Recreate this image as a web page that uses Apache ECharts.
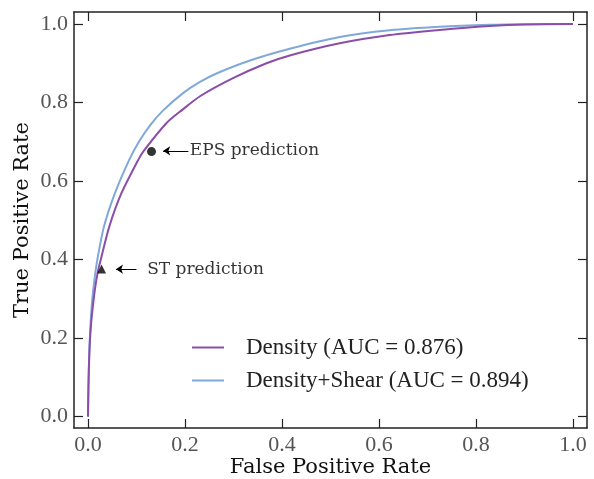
<!DOCTYPE html>
<html>
<head>
<meta charset="utf-8">
<script src="https://cdn.jsdelivr.net/npm/echarts@6/dist/echarts.min.js"></script>
<style>html,body{margin:0;padding:0;background:#fff}#c{width:594px;height:479px}</style>
</head>
<body>
<div id="c"></div>
<script>
// ---- data ----
const fprDensity = [0, 0.001, 0.002, 0.0035, 0.006, 0.010, 0.015, 0.0205, 0.0262, 0.0439, 0.069, 0.1036, 0.115, 0.162, 0.195, 0.231, 0.299, 0.368, 0.416, 0.519, 0.622, 0.725, 0.828, 0.9, 1.0];
const tprDensity = [0, 0.08, 0.13, 0.18, 0.23, 0.28, 0.33, 0.37, 0.399, 0.484, 0.569, 0.654, 0.677, 0.748, 0.782, 0.816, 0.862, 0.900, 0.920, 0.951, 0.972, 0.985, 0.995, 0.999, 1.0];
const fprShear = [0, 0.001, 0.002, 0.0035, 0.006, 0.009, 0.0135, 0.0192, 0.033, 0.0556, 0.085, 0.105, 0.128, 0.155, 0.196, 0.230, 0.265, 0.334, 0.416, 0.519, 0.622, 0.725, 0.828, 0.9, 1.0];
const tprShear = [0, 0.07, 0.13, 0.19, 0.25, 0.30, 0.35, 0.399, 0.484, 0.569, 0.654, 0.700, 0.742, 0.780, 0.824, 0.852, 0.874, 0.907, 0.937, 0.967, 0.984, 0.993, 0.998, 0.9995, 1.0];
const seriesNames = ['Density (AUC = 0.876)', 'Density+Shear (AUC = 0.894)'];
const epsPoint = [0.131, 0.675];
const stPoint = [0.028, 0.376];
const annotationLabels = ['EPS prediction', 'ST prediction'];
const epsTextPos = [0.21, 0.677];
const stTextPos = [0.122, 0.3755];
const epsArrowTip = [0.155, 0.677];
const stArrowTip = [0.0577, 0.3755];
const tickValues = [0, 0.2, 0.4, 0.6, 0.8, 1.0];

const zip = (a, b) => a.map((v, i) => [v, b[i]]);
const purple = '#8a4ea8';
const blue = '#80a8d8';
const serif = 'Liberation Serif';
const axisMin = -0.0288, axisMax = 1.0288;
const yMin = -0.029, yMax = 1.0306;

function mkAxis(pos, isX, main) {
  const a = {
    type: 'value', position: pos,
    min: isX ? axisMin : yMin, max: isX ? axisMax : yMax,
    splitLine: { show: false },
    axisLine: { show: true, onZero: false, lineStyle: { color: '#222', width: 1.5 } },
    axisTick: { show: true, inside: true, length: 9, customValues: tickValues, lineStyle: { color: '#222', width: 1.2 } },
    axisLabel: { show: main, customValues: tickValues, formatter: v => v.toFixed(1),
      fontFamily: serif, fontSize: 22, color: '#555', margin: 6 }
  };
  if (main) {
    a.name = isX ? 'False Positive Rate' : 'True Positive Rate';
    a.nameLocation = 'middle';
    a.nameGap = isX ? 29 : 41;
    a.nameMoveOverlap = false;
    a.nameTextStyle = { fontFamily: 'DejaVu Serif', fontSize: 21, color: '#111' };
  }
  return a;
}

const chart = echarts.init(document.getElementById('c'), null, { renderer: 'canvas' });
const arrowLine = (tail, tip) => [{ coord: tail }, { coord: tip }];
chart.setOption({
  animation: false,
  grid: { left: 74, top: 12, right: 7, bottom: 51, containLabel: false, outerBoundsMode: 'none' },
  xAxis: [mkAxis('bottom', true, true), mkAxis('top', true, false)],
  yAxis: [mkAxis('left', false, true), mkAxis('right', false, false)],
  legend: {
    data: seriesNames, orient: 'vertical', left: 192, top: 336, padding: 0,
    icon: 'rect', itemWidth: 32, itemHeight: 2, itemGap: 10,
    textStyle: { fontFamily: serif, fontSize: 23, color: '#222', lineHeight: 20, padding: [0, 0, 0, 17] }
  },
  series: [
    { name: seriesNames[0], type: 'line', data: zip(fprDensity, tprDensity), symbol: 'none', smooth: 0.25,
      lineStyle: { color: purple, width: 2 }, itemStyle: { color: purple }, z: 3 },
    { name: seriesNames[1], type: 'line', data: zip(fprShear, tprShear), symbol: 'none', smooth: 0.25,
      lineStyle: { color: blue, width: 2 }, itemStyle: { color: blue }, z: 2 },
    { name: 'EPS', type: 'scatter', data: [epsPoint], symbol: 'circle', symbolSize: 9,
      itemStyle: { color: '#000' }, z: 5,
      markLine: { silent: true, symbol: ['none', 'arrow'], symbolSize: 7, label: { show: false },
        lineStyle: { color: '#000', width: 1, type: 'solid' },
        data: [arrowLine([epsTextPos[0] - 0.003, epsTextPos[1]], epsArrowTip)] } },
    { name: 'ST', type: 'scatter', data: [stPoint], symbol: 'triangle', symbolSize: 9,
      itemStyle: { color: '#000' }, z: 5,
      markLine: { silent: true, symbol: ['none', 'arrow'], symbolSize: 7, label: { show: false },
        lineStyle: { color: '#000', width: 1, type: 'solid' },
        data: [arrowLine([stTextPos[0] - 0.022, stTextPos[1]], stArrowTip)] } },
    { name: 'labels', type: 'scatter', symbolSize: 0, silent: true,
      data: [
        { value: epsTextPos, label: { formatter: annotationLabels[0] } },
        { value: stTextPos, label: { formatter: annotationLabels[1] } }
      ],
      label: { show: true, position: 'right', distance: 0, fontFamily: 'DejaVu Serif', fontSize: 17, color: '#000' } }
  ]
});
</script>
</body>
</html>
